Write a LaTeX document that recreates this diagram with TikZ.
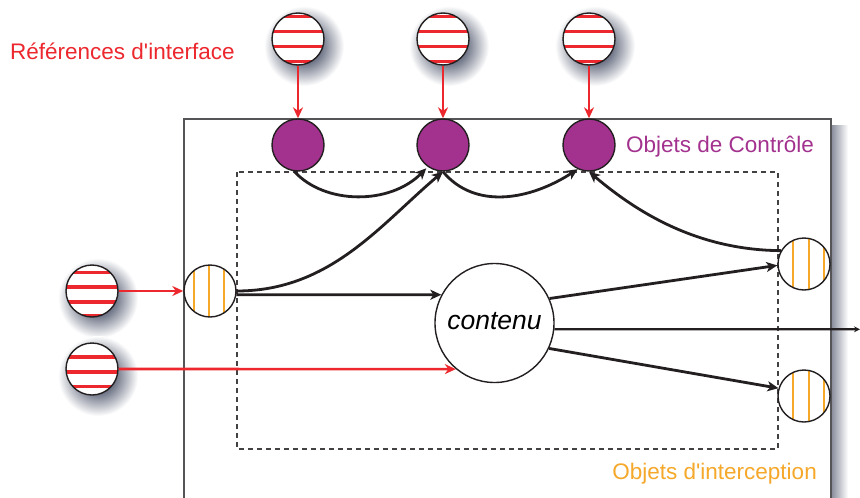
\documentclass[tikz,border=0pt]{standalone}
\usepackage{fontspec}
\setmainfont{Liberation Sans}
\usetikzlibrary{arrows.meta,backgrounds}
\definecolor{myred}{RGB}{236,40,46}
\definecolor{mypurple}{RGB}{163,50,143}
\definecolor{myorange}{RGB}{245,168,42}
\definecolor{myline}{RGB}{35,31,32}
\definecolor{shc}{RGB}{112,118,136}
\definecolor{boxc}{RGB}{85,85,88}
\pgfdeclareradialshading{softsh}{\pgfpoint{0bp}{0bp}}{color(0bp)=(shc); color(11bp)=(shc); color(25bp)=(white); color(50bp)=(white)}
\newcommand\sq{\XeTeXglyph\XeTeXcharglyph"27\relax}
\tikzset{
  refc/.style={circle, draw=myline, line width=1.4pt, fill=white, minimum size=52pt, inner sep=0pt,
    path picture={\foreach \o in {#1} \draw[myred, line width=3.4pt] ([yshift=\o*1pt]path picture bounding box.west) -- ([yshift=\o*1pt]path picture bounding box.east);}},
  intc/.style={circle, draw=myline, line width=1.4pt, fill=white, minimum size=52pt, inner sep=0pt,
    path picture={\foreach \o in {#1} \draw[myorange, line width=2.8pt] ([xshift=\o*1pt]path picture bounding box.north) -- ([xshift=\o*1pt]path picture bounding box.south);}},
  ctrl/.style={circle, draw=myline, line width=1.4pt, fill=mypurple, minimum size=52pt, inner sep=0pt},
  redarr/.style={draw=myred, line width=2.6pt, -{Stealth[length=11pt,width=10pt]}},
  blkarr/.style={draw=myline, line width=2.8pt, -{Stealth[length=11pt,width=10pt,inset=3pt]}},
  lbl/.style={font=\fontsize{22.5}{26}\selectfont, inner sep=0pt},
}
\begin{document}
\begin{tikzpicture}[x=1pt,y=-1pt]
\useasboundingbox (0,0) rectangle (860,498);
% outer box
\draw[boxc, line width=2pt] (184,510) -- (184,119) -- (831,119) -- (831,510);
% dashed box
\draw[myline!85, line width=1.2pt, dash pattern=on 5pt off 4pt] (237,172) rectangle (778,449);
% reference circles
\node[refc={22.5,7.5,-7.5,-22.5}] (t1) at (298,39) {};
\node[refc={22.5,7.5,-7.5,-22.5}] (t2) at (443,39) {};
\node[refc={22.5,7.5,-7.5,-22.5}] (t3) at (589,39) {};
\node[refc={18.5,4,-11,-25}] (l1) at (92,291) {};
\node[refc={12,-3,-17.5}] (l2) at (92,369) {};
% control objects
\node[ctrl] (c1) at (298,145) {};
\node[ctrl] (c2) at (443,145) {};
\node[ctrl] (c3) at (589,145) {};
% interception objects
\node[intc={-16,-1,14}] (iL) at (210,291) {};
\node[intc={-11,5,20}] (iR1) at (804,264) {};
\node[intc={-11,5,20}] (iR2) at (804,396) {};
% content
\node[circle, draw=myline, line width=1.4pt, fill=white, minimum size=119pt, inner sep=0pt,
      font=\fontsize{26.5}{30}\selectfont\itshape, text height=13pt, text depth=0pt] (cont) at (494.5,323) {contenu};
% labels
\node[lbl, text=myred, anchor=base west] (lref) at (10,59) {R\'ef\'erences d\sq interface};
\node[lbl, text=mypurple, anchor=base west] (lctrl) at (626,152) {Objets de Contr\^ole};
\node[lbl, text=myorange, anchor=base east] (lint) at (817,479) {Objets d\sq interception};
% red arrows
\draw[redarr] (t1) -- (c1);
\draw[redarr] (t2) -- (c2);
\draw[redarr] (t3) -- (c3);
\draw[redarr] (l1) -- (iL);
\draw[redarr] (l2) -- (cont.230);
% black arrows
\draw[blkarr] (iL.-8) -- (cont.152);
\draw[blkarr] (iL.east) .. controls (330,291) and (380,225) .. (c2.south);
\draw[blkarr, shorten >=2pt] (c1.-98) .. controls (325,205) and (390,205) .. (c2.235);
\draw[blkarr] (c2.south) .. controls (475,210) and (530,200) .. (c3.245);
\draw[blkarr] (iR1.150) .. controls (700,250) and (640,215) .. (c3.south);
\draw[blkarr] (cont.24) -- (iR1.183);
\draw[blkarr] (cont.-25) -- (iR2.163);
\coordinate (outp) at (860,329.3);
\draw[draw=myline, line width=2.2pt, -{Stealth[length=6pt,width=6pt]}] (cont.-6) -- (outp);
% background: white and shadows
\begin{scope}[on background layer]
  \fill[white] (0,0) rectangle (860,498);
  \foreach \n in {t1,t2,t3,l1,l2} \shade[shading=softsh] ([shift={(6,7)}]\n.center) circle[radius=40pt];
  \shade[left color=shc!85, right color=white] (831,125) rectangle (848,498);
\end{scope}
\end{tikzpicture}
\end{document}
